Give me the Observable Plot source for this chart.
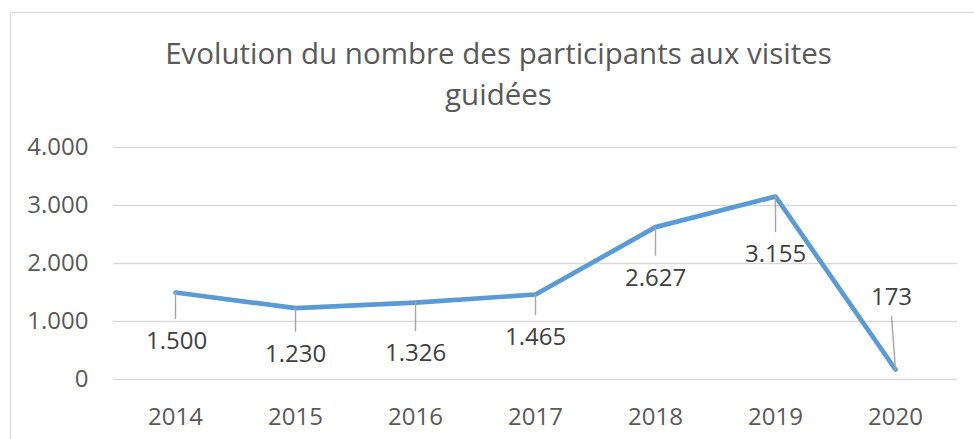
<!DOCTYPE html>
<html>
<head>
<meta charset="utf-8">
<script src="https://cdn.jsdelivr.net/npm/d3@7"></script>
<script src="https://cdn.jsdelivr.net/npm/@observablehq/plot@0.6"></script>
<style>
  html, body { margin: 0; padding: 0; background: #fff; }
  #wrap { position: relative; width: 974px; height: 439px; overflow: hidden; font-family: "Open Sans", sans-serif; }
  #frame { position: absolute; left: 10px; top: 12px; width: 1000px; height: 500px; border-left: 1.5px solid #d9d9d9; border-top: 1.5px solid #d9d9d9; }
  #title { position: absolute; left: 23px; width: 951px; top: 32px; text-align: center; font-size: 29.5px; line-height: 41px; color: #595959; }
  #chart { position: absolute; left: 0; top: 0; }
</style>
</head>
<body>
<div id="wrap">
  <div id="frame"></div>
  <div id="chart"></div>
  <div id="title">Evolution du nombre des participants aux visites<br>guidées</div>
</div>
<script>
const years = ["2014", "2015", "2016", "2017", "2018", "2019", "2020"];
const participants = [1500, 1230, 1326, 1465, 2627, 3155, 173];
const yTicks = [0, 1000, 2000, 3000, 4000];
const valueLabels = ["1.500", "1.230", "1.326", "1.465", "2.627", "3.155", "173"];

// label placement (pixel offsets from each point), as in the reference
const labelDy = [49, 46, 51, 43, 51, 58, -72];
const labelDx = [1, 0, 0, 0, 0, 0, -4];

const data = years.map((year, i) => ({year, value: participants[i], label: valueLabels[i]}));
const fmt = d3.format(",");
const dotFmt = d => d === 0 ? "0" : fmt(d).replace(/,/g, ".");

const leaderShape = {draw(ctx, l) { ctx.moveTo(0, 0); ctx.lineTo(0, -l); }};

const labelMarks = data.flatMap((d, i) => {
  const dy = labelDy[i];
  const below = dy > 0;
  const len = below ? dy - 23 : -dy - 19;
  const rot = below ? 180 : Math.atan2(labelDx[i], len) * 180 / Math.PI;
  return [
    Plot.vector([d], {x: "year", y: "value", length: len, rotate: rot, anchor: "start", shape: leaderShape, stroke: "#a6a6a6", strokeWidth: 1.4}),
    Plot.text([d], {x: "year", y: "value", text: "label", dy, dx: labelDx[i], fill: "#404040", fontSize: 24})
  ];
});

const plot = Plot.plot({
  width: 974,
  height: 439,
  marginTop: 147,
  marginBottom: 60,
  marginLeft: 113,
  marginRight: 17,
  style: {fontFamily: "'Open Sans', sans-serif", background: "transparent", overflow: "visible"},
  x: {type: "point", domain: years, padding: 0.5},
  y: {domain: [0, 4000]},
  marks: [
    Plot.gridY(yTicks, {stroke: "#d9d9d9", strokeOpacity: 1, strokeWidth: 1.5}),
    Plot.axisY(yTicks, {tickSize: 0, tickPadding: 25, tickFormat: dotFmt, fontSize: 24, fill: "#595959", label: null}),
    Plot.axisX({tickSize: 0, tickPadding: 28, fontSize: 24, fill: "#595959", label: null}),
    Plot.line(data, {x: "year", y: "value", stroke: "#5b9bd5", strokeWidth: 4.7, strokeLinejoin: "round", strokeLinecap: "round"}),
    ...labelMarks
  ]
});
document.getElementById("chart").appendChild(plot);
</script>
</body>
</html>
